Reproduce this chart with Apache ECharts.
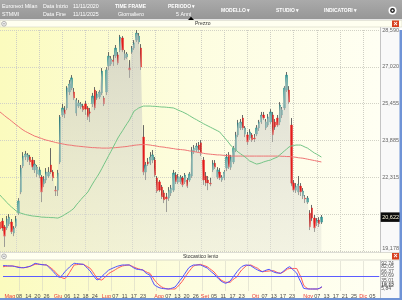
<!DOCTYPE html>
<html><head><meta charset="utf-8">
<script src="https://cdn.jsdelivr.net/npm/echarts@6/dist/echarts.min.js"></script>
<style>html,body{margin:0;padding:0;background:#fff}#c{width:402px;height:300px}</style>
</head><body><div id="c"></div>
<script>
// ---------- DATA ----------
const tradingDays = [
  ['04', [28,29,30]],
  ['05', [2,5,6,7,8,9,12,13,14,15,16,19,20,21,22,23,26,27,28,29,30]],
  ['06', [2,3,4,5,6,9,10,11,12,13,16,17,18,19,20,23,24,25,26,27,30]],
  ['07', [1,2,3,4,7,8,9,10,11,14,15,16,17,18,21,22,23,24,25,28,29,30,31]],
  ['08', [1,4,5,6,7,8,11,12,13,14,18,19,20,21,22,25,26,27,28,29]],
  ['09', [1,2,3,4,5,8,9,10,11,12,15,16,17,18,19,22,23,24,25,26,29,30]],
  ['10', [1,2,3,6,7,8,9,10,13,14,15,16,17,20,21,22,23,24,27,28,29,30,31]],
  ['11', [3,4,5,6,7,10,11]]
];
const futureDays = [
  ['11', [12,13,14,15,16,17,18,19,20,21,22,23,24,25,26,27,28,29,30]],
  ['12', [1,2,3,4,5,6]]
];
const xTickLabels = [
  ['05-02','Mag'],['05-08','08'],['05-14','14'],['05-20','20'],['05-26','26'],
  ['06-02','Giu'],['06-06','06'],['06-12','12'],['06-18','18'],['06-24','24'],
  ['07-01','Lug'],['07-07','07'],['07-11','11'],['07-17','17'],['07-23','23'],
  ['08-01','Ago'],['08-07','07'],['08-13','13'],['08-20','20'],['08-26','26'],
  ['09-01','Set'],['09-05','05'],['09-11','11'],['09-17','17'],['09-23','23'],
  ['10-01','Ott'],['10-07','07'],['10-13','13'],['10-17','17'],['10-23','23'],
  ['11-03','Nov'],['11-07','07'],['11-13','13'],['11-17','17'],['11-21','21'],['11-25','25'],
  ['11-29','Dic'],['12-03','05']
];
const monthNames = ['Mag','Giu','Lug','Ago','Set','Ott','Nov','Dic'];
const yTickLabels = ['19,178','','22,315','23,885','25,455','27,020','28,590'];
const priceMin = 19.178, priceMax = 28.590;
const stochTickValues = [92.74, 82.05, 66.37, 50.69, 35.01, 19.33, 16.12, 5.84];

// [open, close, low, high]
const candles = [
 [20.41,20.11,20.03,20.54],[20.45,20.16,20.03,20.58],[20.20,19.81,19.35,20.28],[20.16,20.54,20.07,20.67],[20.33,20.62,20.24,20.75],
 [20.41,19.99,19.90,20.54],[19.94,20.16,19.81,20.24],[20.24,20.54,20.16,20.67],[20.79,21.31,20.71,21.43],[21.69,22.71,21.60,22.84],
 [22.80,23.22,22.71,23.39],[23.18,23.31,23.05,23.44],[23.05,23.27,22.97,23.35],[23.18,22.97,22.84,23.27],[23.05,22.75,22.63,23.18],
 [22.63,22.88,22.50,23.05],[22.46,22.75,22.33,22.84],[22.41,22.63,22.29,22.75],[22.33,21.69,21.26,22.41],[22.03,22.24,21.90,22.37],
 [22.20,22.54,22.07,22.71],[22.37,22.54,22.29,22.75],[22.84,22.54,22.46,23.56],[22.54,22.29,22.16,22.63],[21.77,21.73,21.52,21.94],
 [21.77,22.50,21.52,22.63],[22.97,24.88,22.88,24.97],[24.97,25.27,24.88,25.44],[25.18,25.01,24.84,25.35],[25.27,26.12,25.18,26.20],
 [25.95,26.29,25.82,26.46],[26.12,26.55,26.03,26.67],[25.95,25.69,25.61,26.12],[25.05,25.61,24.93,25.69],[25.35,25.48,25.27,25.61],
 [25.31,25.44,25.22,25.52],[25.35,25.18,25.10,25.44],[25.44,25.22,24.97,25.57],[25.27,24.88,24.76,25.35],[25.10,25.05,24.67,25.27],
 [25.44,25.78,25.31,25.91],[26.03,25.27,25.18,26.16],[25.69,25.86,25.61,25.99],[25.74,25.95,25.65,26.03],[25.91,26.84,25.82,26.97],
 [25.69,25.44,25.35,25.78],[25.95,26.89,25.82,27.01],[27.06,27.48,26.89,27.65],[27.14,27.36,27.06,27.48],[27.31,27.23,27.06,27.53],
 [27.48,27.82,27.40,27.95],[27.53,27.18,27.10,27.65],[27.74,28.29,27.65,28.38],[28.25,27.74,27.65,28.33],[27.40,27.57,27.31,27.74],
 [27.44,27.57,27.36,27.65],[26.97,26.89,26.55,27.31],[27.65,27.82,27.57,27.91],[27.82,28.04,27.74,28.16],[28.16,28.46,28.08,28.59],
 [28.08,28.33,27.99,28.46],[27.82,27.01,26.89,27.99],[24.03,22.54,22.41,24.54],[22.54,22.84,22.20,22.97],[22.97,22.88,22.80,23.14],
 [22.92,23.18,22.84,23.39],[23.05,23.27,22.92,23.48],[23.05,22.41,22.33,23.18],[22.29,21.73,21.65,22.37],[22.12,21.77,21.69,22.20],
 [21.90,21.48,21.39,21.99],[21.65,21.35,21.22,21.77],[21.48,21.39,20.84,21.65],[21.43,21.77,21.31,21.90],[21.65,21.86,21.52,21.99],
 [21.77,22.50,21.69,22.63],[22.41,22.12,22.03,22.54],[22.12,22.33,22.03,22.46],[22.12,22.33,22.03,22.41],[22.29,21.99,21.90,22.37],
 [22.12,22.41,22.03,22.50],[22.20,21.94,21.86,22.29],[22.20,22.46,22.12,22.54],[22.37,23.48,22.29,23.61],[23.39,23.56,23.31,23.69],
 [23.48,23.65,23.39,23.78],[23.69,23.48,23.39,23.82],[23.78,23.35,23.22,23.90],[23.05,22.20,21.99,23.18],[22.37,22.07,21.94,22.54],
 [22.20,22.07,21.77,22.37],[22.07,22.03,21.94,22.29],[22.63,22.92,22.54,23.05],[22.92,22.75,22.67,23.05],[22.33,22.63,22.24,22.75],
 [22.54,22.29,22.20,22.71],[22.20,22.33,22.12,22.41],[22.29,22.54,22.20,22.63],[22.71,23.18,22.58,23.31],[23.27,22.75,22.67,23.39],
 [22.75,23.18,22.63,23.27],[22.97,23.56,22.88,23.65],[23.48,24.12,23.39,24.25],[24.12,24.63,24.03,24.76],[24.42,24.67,24.33,24.80],
 [24.84,24.42,24.33,24.97],[24.16,24.42,24.03,24.50],[24.12,23.82,23.69,24.25],[23.99,24.25,23.90,24.37],[24.12,23.90,23.82,24.20],
 [23.99,23.95,23.82,24.16],[24.16,24.42,24.07,24.54],[24.42,24.67,24.29,24.76],[24.67,24.97,24.59,25.10],[24.97,24.84,24.76,25.10],
 [24.42,24.67,24.33,24.80],[24.54,24.88,24.46,25.01],[24.67,25.10,24.59,25.22],[24.97,24.12,23.82,25.10],[24.67,24.46,24.33,24.80],
 [24.84,24.54,24.46,24.97],[24.67,25.40,24.54,25.52],[24.97,25.18,24.84,25.31],[25.27,26.12,25.18,26.20],[26.03,26.67,25.95,26.80],
 [26.03,25.52,25.44,26.20],[24.54,22.07,21.94,24.84],[22.07,21.77,21.69,22.20],[21.77,21.94,21.65,22.07],[21.69,22.03,21.56,22.37],
 [21.94,21.69,21.52,22.07],[21.52,21.73,21.39,21.86],[21.43,21.39,21.22,21.56],[21.26,21.43,21.18,21.52],[20.79,20.20,20.07,20.92],
 [21.01,20.58,20.45,21.14],[20.58,20.16,19.99,20.71],[20.37,20.50,20.24,20.58],[20.50,20.33,20.20,20.62],[20.41,20.622,20.33,20.71]
];
const maSlow = [
 25.10,25.02,24.94,24.86,24.79, 24.71,24.63,24.55,24.48,24.40, 24.33,24.27,24.22,24.17,24.12, 24.07,24.04,24.00,23.97,23.93,
 23.90,23.88,23.85,23.83,23.80, 23.78,23.76,23.74,23.72,23.70, 23.69,23.68,23.66,23.65,23.64, 23.63,23.62,23.61,23.60,23.59,
 23.58,23.58,23.57,23.57,23.56, 23.56,23.56,23.56,23.57,23.57, 23.58,23.59,23.60,23.61,23.62, 23.63,23.65,23.66,23.68,23.69,
 23.70,23.71,23.71,23.71,23.70, 23.69,23.67,23.66,23.64,23.62, 23.61,23.60,23.58,23.57,23.55, 23.54,23.52,23.51,23.50,23.49,
 23.48,23.46,23.44,23.43,23.41, 23.39,23.37,23.36,23.34,23.32, 23.31,23.30,23.29,23.28,23.27, 23.27,23.26,23.25,23.24,23.23,
 23.22,23.22,23.22,23.22,23.22, 23.22,23.22,23.22,23.22,23.22, 23.22,23.22,23.22,23.22,23.22, 23.22,23.22,23.22,23.22,23.22,
 23.22,23.22,23.21,23.21,23.20, 23.20,23.19,23.18,23.17,23.15, 23.14,23.13,23.11,23.09,23.07, 23.05,23.03,23.01,22.99,22.97
];
const maFast = [
 21.56,21.45,21.35,21.24,21.14, 21.05,20.97,20.88,20.83,20.79, 20.76,20.73,20.71,20.69,20.67, 20.66,20.65,20.64,20.62,20.62,
 20.61,20.61,20.60,20.60,20.59, 20.58,20.62,20.67,20.73,20.79, 20.85,20.92,21.00,21.14,21.25, 21.37,21.48,21.58,21.69,21.86,
 22.03,22.19,22.34,22.50,22.68, 22.87,23.05,23.24,23.42,23.61, 23.80,23.99,24.15,24.30,24.46, 24.61,24.76,24.95,25.14,25.20,
 25.27,25.31,25.35,25.35,25.35, 25.35,25.34,25.34,25.33,25.32, 25.31,25.31,25.30,25.29,25.28, 25.27,25.23,25.18,25.14,25.10,
 25.05,25.00,24.94,24.88,24.82, 24.77,24.71,24.66,24.60,24.55, 24.50,24.45,24.40,24.35,24.30, 24.25,24.13,24.02,23.90,23.78,
 23.65,23.56,23.48,23.39,23.32, 23.25,23.18,23.10,23.01,22.97, 22.92,22.88,22.90,22.93,22.97, 23.00,23.03,23.05,23.10,23.14,
 23.18,23.27,23.35,23.44,23.52, 23.61,23.65,23.67,23.69,23.69, 23.69,23.65,23.60,23.56,23.49, 23.42,23.35,23.30,23.24,23.18
];
const stochK = [
 85.5,86,85,84.5,84.5,83,81,79,78.6,78.6,
 80,82,84,89,93.8,92,90,89,88.5,88,
 80,72,64.8,55,47.6,45.5,55,64.8,73,81,
 88,93.8,93,92,91,90.3,83,75,67.2,55,
 45,36.2,40,47.6,55,63,70,74,77.6,81,
 84,86,88,88,88,88,83,78,74.1,72.5,
 71.5,70.7,62,57,53.4,35,19,14,10,7.6,
 6.5,5.8,5.2,6.5,9,12,22,33,43,55,
 67,78.6,84,88,88,88,88,85,81,77.6,
 70,63,56.9,48,40,32.8,28,24.8,28,32.8,
 43,54,64.8,74,82,86,88,87,85.5,80,
 75,70.7,67,64.8,68,71,73.1,68,63.8,61,
 60,59.3,65,72,78.6,82,75,67,60.3,42,
 25.9,7.6,6,5.2,5.2,5.2,5.2,5.2,8,13.1
];
const stochD = [
 82,83,84,84.5,84.5,83.5,82,80.5,79,78.6,
 79.5,81.5,84,87,90.3,91,90.5,89.5,88.5,88,
 83,77,70.7,62,53.4,47.6,43,41,50,62,
 75,88,89,90,90.3,90.3,86,81,76.6,66,
 54,42,38,36.2,42,50,58,63,67.2,72,
 77,81,84.5,86,87.5,88,85,81,77.6,75,
 72.5,70.7,66,62,59.3,48,36.2,27,19,13.1,
 9,6.5,5.2,5.2,5.2,5.2,12,21,30.3,42,
 54,64.8,75,84.5,87,89,90.3,87.5,85,82,
 76,70,63.8,54,45,36.2,32,28.3,28.3,28.3,
 36,42,47.6,60,70.7,78,85.5,87,88,84,
 80,76.6,70,64.8,65.5,66.5,67.2,67.8,68.3,64,
 61,59.3,63,68,74.1,75.9,76,76,75.9,60,
 43,19,10,6,5.2,5.2,5.2,5.2,7,12
];

// ---------- BUILD ----------
const toCats = list => list.flatMap(([m, ds]) => ds.map(d => m + '-' + String(d).padStart(2, '0')));
const categories = toCats(tradingDays).concat(toCats(futureDays));
const labelMap = Object.fromEntries(xTickLabels);
const closes = candles.map(r => r[1]);
const bodies = candles.map(r => [r[0], r[1], Math.min(r[0], r[1]), Math.max(r[0], r[1])]);
const lastClose = closes[closes.length - 1];
const fmtComma = (v, d) => v.toFixed(d).replace('.', ',');
const FONT = '"Liberation Sans", Arial, sans-serif';

const UP = '#1d898b', DOWN = '#e31b1b', WICK = '#585858';
const bgGrad = () => new echarts.graphic.LinearGradient(0, 0, 1, 0, [
  {offset: 0, color: '#fbfbbe'}, {offset: 0.5, color: '#fdfddf'}, {offset: 1, color: '#fffff3'}]);

const txt = (x, y, text, extra) => Object.assign({
  type: 'text', z: 110, silent: true,
  style: Object.assign({text: text, x: x, y: y, fill: '#ffffff', fontSize: 5, fontFamily: FONT,
    verticalAlign: 'middle', textVerticalAlign: 'middle'}, extra || {})
});

const graphic = [
  {type: 'rect', z: -10, silent: true, shape: {x: 0, y: 27, width: 380, height: 225}, style: {fill: bgGrad()}},
  {type: 'rect', z: -10, silent: true, shape: {x: 0, y: 260, width: 380, height: 38}, style: {fill: bgGrad()}},
  {type: 'rect', z: -9, silent: true, shape: {x: 380, y: 27, width: 20, height: 271}, style: {fill: '#f9f9f9'}},
  {type: 'line', z: -8, silent: true, shape: {x1: 380.5, y1: 27, x2: 380.5, y2: 298}, style: {stroke: '#c4c4c4', lineWidth: 1}},
  // header
  {type: 'rect', z: 100, silent: true, shape: {x: 0, y: 0, width: 402, height: 19.5},
    style: {fill: new echarts.graphic.LinearGradient(0, 0, 0, 1, [{offset: 0, color: '#aaaaaa'}, {offset: 1, color: '#969696'}])}},
  {type: 'rect', z: 100, silent: true, shape: {x: 0, y: 19.5, width: 402, height: 1}, style: {fill: '#ffffff'}},
  // price title band
  {type: 'rect', z: 100, silent: true, shape: {x: 0, y: 20.5, width: 402, height: 6.5}, style: {fill: '#fffff0', stroke: '#d4d4c4', lineWidth: 0.6}},
  // stochastic title band
  {type: 'rect', z: 100, silent: true, shape: {x: 0, y: 252.5, width: 402, height: 7.5}, style: {fill: '#fffff0', stroke: '#c4c4bc', lineWidth: 0.6}},
  // borders
  {type: 'rect', z: 100, silent: true, shape: {x: 399.5, y: 30, width: 2.5, height: 270}, style: {fill: '#6f93d6'}},
  {type: 'rect', z: 100, silent: true, shape: {x: 0, y: 298, width: 402, height: 2}, style: {fill: '#6f93d6'}},
  // red close boxes
  {type: 'rect', z: 105, silent: true, shape: {x: 392, y: 20.5, width: 7, height: 6.5}, style: {fill: '#d8401f'}},
  {type: 'rect', z: 105, silent: true, shape: {x: 392, y: 253, width: 7, height: 6.5}, style: {fill: '#d8401f'}},
  txt(395.5, 23.8, '×', {fontSize: 7, fontWeight: 'bold', align: 'center', textAlign: 'center'}),
  txt(395.5, 256.3, '×', {fontSize: 7, fontWeight: 'bold', align: 'center', textAlign: 'center'}),
  // collapse circles
  {type: 'circle', z: 105, silent: true, shape: {cx: 4, cy: 23.8, r: 2.4}, style: {fill: '#f2f2f2', stroke: '#8a8a8a', lineWidth: 0.6}},
  {type: 'line', z: 106, silent: true, shape: {x1: 2.8, y1: 23.8, x2: 5.2, y2: 23.8}, style: {stroke: '#777', lineWidth: 0.6}},
  {type: 'circle', z: 105, silent: true, shape: {cx: 4, cy: 256.3, r: 2.4}, style: {fill: '#f2f2f2', stroke: '#8a8a8a', lineWidth: 0.6}},
  {type: 'line', z: 106, silent: true, shape: {x1: 2.8, y1: 256.3, x2: 5.2, y2: 256.3}, style: {stroke: '#777', lineWidth: 0.6}},
  // panel titles
  txt(195, 23.8, 'Prezzo', {fill: '#333333'}),
  txt(183, 256.3, 'Stocastico lento', {fill: '#333333'}),
  {type: 'polygon', z: 110, silent: true, shape: {points: [[188, 20], [191, 16.8], [194, 20]]}, style: {fill: '#000'}},
  // header texts
  txt(2, 6.5, 'Euronext Milan', {fontSize: 5.3}), txt(2, 14.5, 'STMMI', {fontSize: 5.3}),
  txt(43, 6.5, 'Data Inizio', {fontSize: 5.3}), txt(43, 14.5, 'Data Fine', {fontSize: 5.3}),
  txt(73, 6.5, '11/11/2020', {fontSize: 5.3}), txt(73, 14.5, '11/11/2025', {fontSize: 5.3}),
  txt(115, 6.5, 'TIME FRAME', {fontWeight: 'bold'}), txt(118, 14.5, 'Giornaliero', {fontSize: 5.3}),
  txt(168, 6.5, 'PERIODO ▾', {fontWeight: 'bold'}), txt(176, 14.5, '5 Anni', {fontSize: 5.3}),
  txt(221, 11, 'MODELLO ▾', {fontWeight: 'bold'}),
  txt(276, 11, 'STUDIO ▾', {fontWeight: 'bold'}),
  txt(324, 11, 'INDICATORI ▾', {fontWeight: 'bold'}),
  {type: 'circle', z: 110, silent: true, shape: {cx: 392.5, cy: 10.5, r: 4}, style: {fill: '#ffffff'}},
  {type: 'circle', z: 111, silent: true, shape: {cx: 392.5, cy: 10.5, r: 2.4}, style: {fill: '#222222'}},
  {type: 'circle', z: 112, silent: true, shape: {cx: 392.5, cy: 10.5, r: 1}, style: {fill: '#ffffff'}}
];

const gridLine = {show: true, interval: (i) => i % 10 === 7, lineStyle: {color: '#cfcfc4', type: 'dotted', width: 1}};

const option = {
  animation: false,
  backgroundColor: '#ffffff',
  textStyle: {fontFamily: FONT},
  graphic: graphic,
  grid: [
    {left: 0, right: 22.7, top: 30, height: 221},
    {left: 0, right: 22.7, top: 261.5, height: 29}
  ],
  xAxis: [
    {type: 'category', gridIndex: 0, data: categories, boundaryGap: false,
      axisLine: {show: false}, axisTick: {show: false}, axisLabel: {show: false}, splitLine: gridLine},
    {type: 'category', gridIndex: 1, data: categories, boundaryGap: false,
      axisLine: {show: false}, axisTick: {show: false}, splitLine: gridLine,
      axisLabel: {show: true, interval: 0, margin: 3, fontSize: 5.5, color: '#4a4a4a', fontFamily: FONT,
        formatter: (v) => { const t = labelMap[v]; if (!t) return ''; return monthNames.includes(t) ? '{m|' + t + '}' : t; },
        rich: {m: {color: '#e8403c', fontSize: 5.5, fontFamily: FONT}}}}
  ],
  yAxis: [
    {type: 'value', gridIndex: 0, min: priceMin, max: priceMax, show: false, splitLine: {show: false}},
    {type: 'value', gridIndex: 0, min: 0, max: 6, interval: 1, position: 'right',
      axisLine: {show: false}, axisTick: {show: false},
      axisLabel: {margin: 3, fontSize: 5.5, color: '#666666', fontFamily: FONT,
        formatter: (v) => { const i = Math.round(v); return i === 0 ? '{b|' + yTickLabels[i] + '}' : yTickLabels[i]; },
        rich: {b: {fontSize: 5.5, color: '#666666', fontFamily: FONT, padding: [0, 0, 5, 0]}}},
      splitLine: {show: true, lineStyle: {color: '#d2d2c6', type: 'dotted', width: 1}}},
    {type: 'value', gridIndex: 1, min: 0, max: 100, show: false, splitLine: {show: false}}
  ],
  series: [
    {type: 'line', xAxisIndex: 0, yAxisIndex: 0, data: closes, symbol: 'none', silent: true,
      lineStyle: {width: 0},
      areaStyle: {color: new echarts.graphic.LinearGradient(0, 0, 0, 1, [
        {offset: 0, color: 'rgba(196,196,192,0.92)'}, {offset: 1, color: 'rgba(226,226,216,0.6)'}])}},
    {type: 'candlestick', xAxisIndex: 0, yAxisIndex: 0, data: candles, silent: true,
      barWidth: 0.2, barMinWidth: 0,
      itemStyle: {color: WICK, color0: WICK, borderColor: WICK, borderColor0: WICK, borderWidth: 0.9}},
    {type: 'candlestick', xAxisIndex: 0, yAxisIndex: 0, data: bodies, silent: true,
      barWidth: 1.9,
      itemStyle: {color: UP, color0: DOWN, borderColor: UP, borderColor0: DOWN, borderWidth: 0.4},
      markLine: {silent: true, symbol: ['none', 'none'], animation: false,
        lineStyle: {color: 'rgba(0,0,0,0)', width: 0},
        label: {show: true, position: 'end', distance: 1.5, formatter: () => fmtComma(lastClose, 3),
          backgroundColor: '#0c0c0c', color: '#fffbe0', fontSize: 5.5, fontFamily: FONT, padding: [2, 1.5, 1.5, 1.5]},
        data: [{yAxis: lastClose}]}},
    {type: 'line', xAxisIndex: 0, yAxisIndex: 0, data: maSlow, symbol: 'none', silent: true,
      lineStyle: {color: '#ee7474', width: 1}},
    {type: 'line', xAxisIndex: 0, yAxisIndex: 0, data: maFast, symbol: 'none', silent: true,
      lineStyle: {color: '#74c486', width: 1}},
    {type: 'line', xAxisIndex: 1, yAxisIndex: 2, data: stochD, symbol: 'none', silent: true,
      lineStyle: {color: '#ff5a5a', width: 1}},
    {type: 'line', xAxisIndex: 1, yAxisIndex: 2, data: stochK, symbol: 'none', silent: true,
      lineStyle: {color: '#5050ff', width: 1},
      markLine: {silent: true, symbol: ['none', 'none'], animation: false,
        data: [{yAxis: 50, lineStyle: {color: '#5c5cff', width: 1, type: 'solid'}, label: {show: false}}]
          .concat(stochTickValues.map(v => ({yAxis: v,
            lineStyle: {color: 'rgba(0,0,0,0)', width: 0},
            label: {show: true, position: 'end', distance: 2, formatter: () => fmtComma(v, 2),
              fontSize: 5, color: '#555555', fontFamily: FONT}})))}}
  ]
};

const chart = echarts.init(document.getElementById('c'), null, {renderer: 'canvas'});
chart.setOption(option);
</script>
</body></html>
